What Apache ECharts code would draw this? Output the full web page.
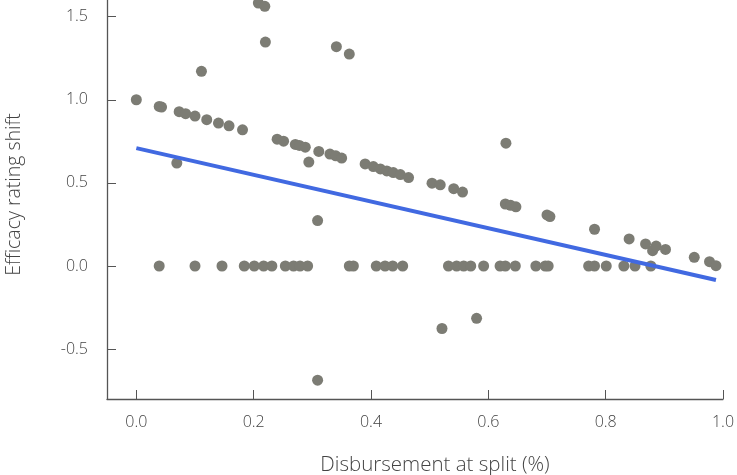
<!DOCTYPE html>
<html>
<head>
    <meta charset="utf-8">
    <title>Efficacy vs disbursement</title>
    <script src="https://cdn.jsdelivr.net/npm/echarts@6/dist/echarts.min.js"></script>
    <style>
        html, body { margin: 0; padding: 0; background: #fff; }
    </style>
</head>
<body>
<div id="main" style="width: 737px;height:475px;"></div>
<script type="text/javascript">

        // points
        var ptX = [0.0, 0.039, 0.043, 0.069, 0.073, 0.084, 0.100, 0.111, 0.120, 0.140,
                   0.158, 0.181, 0.208, 0.219, 0.220, 0.240, 0.251, 0.271, 0.278, 0.288,
                   0.294, 0.311, 0.309, 0.309, 0.330, 0.340, 0.350, 0.341, 0.363, 0.390,
                   0.404, 0.416, 0.427, 0.438, 0.450, 0.464, 0.504, 0.518, 0.541, 0.556,
                   0.521, 0.580, 0.630, 0.629, 0.638, 0.647, 0.700, 0.705, 0.781, 0.840,
                   0.868, 0.880, 0.886, 0.902, 0.951, 0.977, 0.988];
        var ptY = [1.0, 0.960, 0.956, 0.619, 0.928, 0.916, 0.902, 1.171, 0.880, 0.860,
                   0.843, 0.819, 1.582, 1.562, 1.347, 0.763, 0.751, 0.731, 0.725, 0.715,
                   0.625, 0.689, 0.273, -0.687, 0.673, 0.663, 0.649, 1.319, 1.275, 0.614,
                   0.598, 0.584, 0.572, 0.562, 0.550, 0.532, 0.498, 0.488, 0.465, 0.445,
                   -0.376, -0.315, 0.739, 0.373, 0.365, 0.356, 0.307, 0.297, 0.221, 0.163,
                   0.133, 0.092, 0.120, 0.100, 0.052, 0.026, 0.002];
        // points sitting on zero
        var zeroX = [0.039, 0.100, 0.146, 0.184, 0.201, 0.217, 0.231, 0.254, 0.268, 0.279,
                     0.292, 0.363, 0.370, 0.409, 0.424, 0.437, 0.454, 0.532, 0.546, 0.558,
                     0.570, 0.592, 0.620, 0.629, 0.646, 0.681, 0.697, 0.702, 0.771, 0.781,
                     0.801, 0.831, 0.850, 0.877];

        // fitted line ends
        var fitX = [0.0, 0.988];
        var fitY = [0.709, -0.084];

        var xTicks = [0.0, 0.2, 0.4, 0.6, 0.8, 1.0];
        var yTicks = [-0.5, 0.0, 0.5, 1.0, 1.5];

        var pts = [];
        for (var i = 0; i < ptX.length; i++) {
            pts.push([ptX[i], ptY[i]]);
        }
        for (var j = 0; j < zeroX.length; j++) {
            pts.push([zeroX[j], 0]);
        }
        var fit = [];
        for (var k = 0; k < fitX.length; k++) {
            fit.push([fitX[k], fitY[k]]);
        }

        var textFont = '"Open Sans"';
        var textColor = '#444';
        var axisColor = '#555';

        var option = {
            animation: false,
            grid: {
                left: 107,
                right: 14,
                top: 0,
                bottom: 76,
                outerBoundsMode: 'none'
            },
            xAxis: {
                type: 'value',
                min: -0.05,
                max: 1.0,
                name: 'Disbursement at split (%)',
                nameLocation: 'middle',
                nameGap: 56,
                nameTextStyle: {
                    fontFamily: textFont, fontWeight: 300, fontSize: 20.5, color: textColor,
                    padding: [0, 0, 0, 40]
                },
                axisLine: {show: true, onZero: false, lineStyle: {color: axisColor, width: 1.3}},
                axisTick: {show: true, inside: true, length: 9, customValues: xTicks,
                    lineStyle: {color: axisColor}},
                axisLabel: {
                    customValues: xTicks,
                    margin: 15,
                    fontFamily: textFont, fontWeight: 300, fontSize: 16, color: textColor,
                    formatter: function (v) { return v.toFixed(1); }
                },
                splitLine: {show: false}
            },
            yAxis: {
                type: 'value',
                min: -0.8,
                max: 1.6,
                name: 'Efficacy rating shift',
                nameLocation: 'middle',
                nameGap: 83,
                nameTextStyle: {
                    fontFamily: textFont, fontWeight: 300, fontSize: 19.5, color: textColor,
                    padding: [0, 0, 0, 10]
                },
                axisLine: {show: true, onZero: false, lineStyle: {color: axisColor, width: 1.3}},
                axisTick: {show: true, inside: true, length: 9, customValues: yTicks,
                    lineStyle: {color: axisColor}},
                axisLabel: {
                    customValues: yTicks,
                    margin: 19,
                    fontFamily: textFont, fontWeight: 300, fontSize: 16, color: textColor,
                    formatter: function (v) { return v.toFixed(1); }
                },
                splitLine: {show: false}
            },
            series: [
                {
                    name: 'points',
                    type: 'scatter',
                    symbolSize: 11,
                    itemStyle: {color: '#7c7c74', opacity: 1},
                    data: pts,
                    z: 2
                },
                {
                    name: 'fit',
                    type: 'line',
                    symbol: 'none',
                    lineStyle: {color: '#4169e1', width: 4},
                    data: fit,
                    z: 3
                }
            ]
        };

        var myChart = echarts.init(document.getElementById('main'));
        myChart.setOption(option);

</script>
</body>
</html>
